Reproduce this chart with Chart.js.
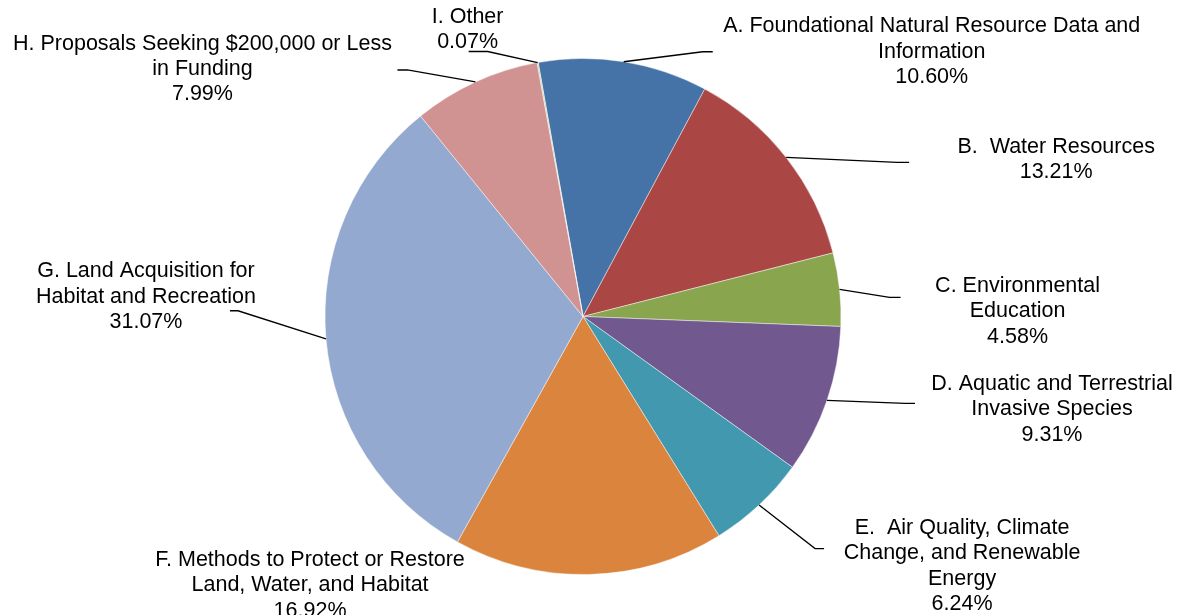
<!DOCTYPE html>
<html>
<head>
<meta charset="utf-8">
<script src="https://cdn.jsdelivr.net/npm/chart.js@4"></script>
<style>
  html, body { margin: 0; padding: 0; background: #fff; }
  #wrap { width: 1182px; height: 615px; position: relative; }
</style>
</head>
<body>
<div id="wrap"><canvas id="pie-chart"></canvas></div>
<script>
// category names, already broken into lines like the original labels
const categories = [
    ['A. Foundational Natural Resource Data and', 'Information'],
    ['B.  Water Resources'],
    ['C. Environmental', 'Education'],
    ['D. Aquatic and Terrestrial', 'Invasive Species'],
    ['E.  Air Quality, Climate', 'Change, and Renewable', 'Energy'],
    ['F. Methods to Protect or Restore', 'Land, Water, and Habitat'],
    ['G. Land Acquisition for', 'Habitat and Recreation'],
    ['H. Proposals Seeking $200,000 or Less', 'in Funding'],
    ['I. Other']
];
const shares = [10.60, 13.21, 4.58, 9.31, 6.24, 16.92, 31.07, 7.99, 0.07];
const sliceColors = ['#4572A7', '#AA4643', '#89A54E', '#71588F', '#4198AF', '#DB843D', '#93A9CF', '#D19392', '#B9CD96'];

// label placement relative to the point on the rim at each slice's middle angle
// text: [dx, dy] of the text block centre, leader: [dx, dy] of the elbow and stub length (null = no leader)
const labelLayout = [
    { text: [308, -10], leader: [79, -10, 10] },
    { text: [270, 2],   leader: [111, 5, 12] },
    { text: [178, 22],  leader: [50, 8, 11] },
    { text: [225, 9],   leader: [78, 3, 10] },
    { text: [203, 61],  leader: [56, 43.5, 9] },
    { text: [-279, 11], leader: null },
    { text: [-180, -42], leader: [-88, -28, -8] },
    { text: [-273, -13], leader: [-68, -12, -10] },
    { text: [-70, -33], leader: [-50, -11, -19] }
];

const FONT_SIZE = 21.5;
const LINE_H = 25.4;

const outsideLabels = {
    id: 'outsideLabels',
    afterDatasetsDraw(chart) {
        const ctx = chart.ctx;
        const meta = chart.getDatasetMeta(0);
        ctx.save();
        ctx.font = FONT_SIZE + 'px "Liberation Sans", Arial, sans-serif';
        ctx.fillStyle = '#000';
        ctx.strokeStyle = '#000';
        ctx.lineWidth = 1.3;
        ctx.textAlign = 'center';
        ctx.textBaseline = 'middle';

        meta.data.forEach((arc, i) => {
            const p = arc.getProps(['x', 'y', 'startAngle', 'endAngle', 'outerRadius'], true);
            const mid = (p.startAngle + p.endAngle) / 2;
            const ex = p.x + Math.cos(mid) * p.outerRadius;
            const ey = p.y + Math.sin(mid) * p.outerRadius;
            const lay = labelLayout[i];

            if (lay.leader) {
                const bx = ex + lay.leader[0];
                const by = ey + lay.leader[1];
                ctx.beginPath();
                ctx.moveTo(ex, ey);
                ctx.lineTo(bx, by);
                ctx.lineTo(bx + lay.leader[2], by);
                ctx.stroke();
            }

            const lines = categories[i].concat([shares[i].toFixed(2) + '%']);
            const cx = ex + lay.text[0];
            const cy = ey + lay.text[1];
            const top = cy - (lines.length - 1) * LINE_H / 2;
            lines.forEach((line, j) => {
                ctx.fillText(line, cx, top + j * LINE_H);
            });
        });
        ctx.restore();
    }
};

const ctx = document.getElementById('pie-chart').getContext('2d');
const myChart = new Chart(ctx, {
    type: 'pie',
    data: {
        labels: categories.map(c => c.join(' ')),
        datasets: [{
            data: shares,
            backgroundColor: sliceColors,
            borderColor: 'rgba(255, 255, 255, 0.45)',
            borderWidth: 1
        }]
    },
    options: {
        responsive: true,
        maintainAspectRatio: false,
        animation: false,
        rotation: -10,
        layout: {
            padding: { left: 0, right: 16, top: 58, bottom: 40 }
        },
        plugins: {
            legend: { display: false },
            tooltip: { enabled: false }
        }
    },
    plugins: [outsideLabels]
});
</script>
</body>
</html>
